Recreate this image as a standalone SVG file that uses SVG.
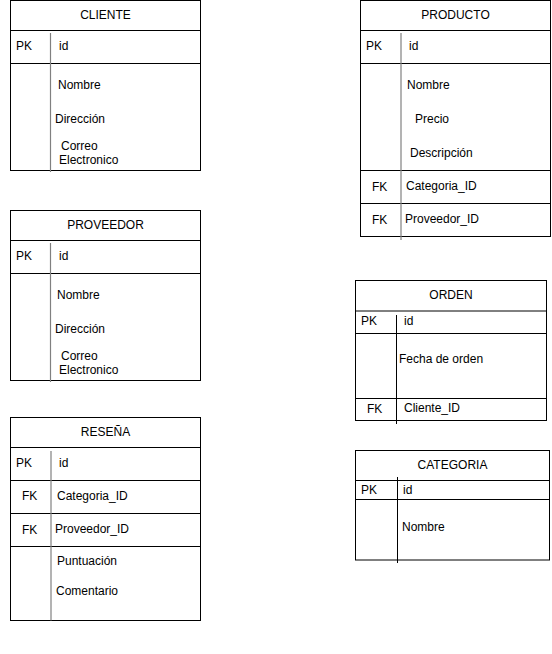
<svg xmlns="http://www.w3.org/2000/svg" width="552" height="654" viewBox="0 0 552 654">
<style>
rect.box{fill:#fff;stroke:#000;stroke-width:1}
line.div{stroke:#000;stroke-width:1}
line.sep{stroke:#808080;stroke-width:1.2}
line.sepk{stroke:#000;stroke-width:1}
text{font-family:"Liberation Sans",Arial,sans-serif;font-size:12px;fill:#000;dominant-baseline:central}
text.h{text-anchor:middle}
</style>
<rect width="552" height="654" fill="#fff"/>
<g id="cliente">
<rect class="box" x="10.5" y="0.5" width="190" height="170"/>
<line class="div" x1="10.5" y1="30.5" x2="200.5" y2="30.5"/>
<line class="div" x1="10.5" y1="63.5" x2="200.5" y2="63.5"/>
<line class="sep" x1="50.5" y1="33" x2="50.5" y2="172"/>
<text class="h" x="105.5" y="15">CLIENTE</text>
<text x="16" y="46">PK</text>
<text x="59" y="46">id</text>
<text x="58" y="85">Nombre</text>
<text x="55" y="119">Dirección</text>
<text x="61" y="146">Correo</text>
<text x="59" y="160">Electronico</text>
</g>
<g id="proveedor">
<rect class="box" x="10.5" y="210.5" width="190" height="170"/>
<line class="div" x1="10.5" y1="240.5" x2="200.5" y2="240.5"/>
<line class="div" x1="10.5" y1="273.5" x2="200.5" y2="273.5"/>
<line class="sep" x1="50.5" y1="243" x2="50.5" y2="382"/>
<text class="h" x="105.5" y="225">PROVEEDOR</text>
<text x="16" y="256">PK</text>
<text x="59" y="256">id</text>
<text x="57" y="295">Nombre</text>
<text x="55" y="329">Dirección</text>
<text x="61" y="356">Correo</text>
<text x="59" y="370">Electronico</text>
</g>
<g id="resena">
<rect class="box" x="10.5" y="417.5" width="190" height="203"/>
<line class="div" x1="10.5" y1="447.5" x2="200.5" y2="447.5"/>
<line class="div" x1="10.5" y1="480.5" x2="200.5" y2="480.5"/>
<line class="div" x1="10.5" y1="513.5" x2="200.5" y2="513.5"/>
<line class="div" x1="10.5" y1="546.5" x2="200.5" y2="546.5"/>
<line class="sep" x1="51" y1="451" x2="51" y2="620.5"/>
<text class="h" x="105.5" y="432">RESEÑA</text>
<text x="16" y="463">PK</text>
<text x="59" y="463">id</text>
<text x="22" y="496">FK</text>
<text x="57" y="496">Categoria_ID</text>
<text x="22" y="530">FK</text>
<text x="55" y="529">Proveedor_ID</text>
<text x="57" y="561">Puntuación</text>
<text x="56" y="591">Comentario</text>
</g>
<g id="producto">
<rect class="box" x="360.5" y="0.5" width="190" height="236"/>
<line class="div" x1="360.5" y1="30.5" x2="550.5" y2="30.5"/>
<line class="div" x1="360.5" y1="63.5" x2="550.5" y2="63.5"/>
<line class="div" x1="360.5" y1="170.5" x2="550.5" y2="170.5"/>
<line class="div" x1="360.5" y1="203.5" x2="550.5" y2="203.5"/>
<line class="sep" x1="401" y1="33" x2="401" y2="240"/>
<text class="h" x="455.5" y="15">PRODUCTO</text>
<text x="366" y="46">PK</text>
<text x="409" y="46">id</text>
<text x="407" y="85">Nombre</text>
<text x="415" y="119">Precio</text>
<text x="410" y="153">Descripción</text>
<text x="372" y="187">FK</text>
<text x="406" y="186">Categoria_ID</text>
<text x="372" y="220">FK</text>
<text x="405" y="219">Proveedor_ID</text>
</g>
<g id="orden">
<rect class="box" x="355.5" y="280.5" width="191" height="140"/>
<line class="div" x1="355.5" y1="311" x2="546.5" y2="311"/>
<line class="div" x1="355.5" y1="333.5" x2="546.5" y2="333.5"/>
<line class="div" x1="355.5" y1="398.5" x2="546.5" y2="398.5"/>
<line class="sepk" x1="396.5" y1="315" x2="396.5" y2="424"/>
<text class="h" x="451" y="295">ORDEN</text>
<text x="361" y="321">PK</text>
<text x="404" y="321">id</text>
<text x="399" y="359">Fecha de orden</text>
<text x="367" y="409">FK</text>
<text x="404" y="408">Cliente_ID</text>
</g>
<g id="categoria">
<rect class="box" x="355.5" y="450.5" width="194" height="109.5"/>
<line class="div" x1="355.5" y1="480.5" x2="549.5" y2="480.5"/>
<line class="div" x1="355.5" y1="499.5" x2="549.5" y2="499.5"/>
<line class="sepk" x1="397.5" y1="477" x2="397.5" y2="563"/>
<text class="h" x="452.5" y="465">CATEGORIA</text>
<text x="361" y="490">PK</text>
<text x="403" y="490">id</text>
<text x="402" y="527">Nombre</text>
</g>
<g id="connectors"/>
</svg>
